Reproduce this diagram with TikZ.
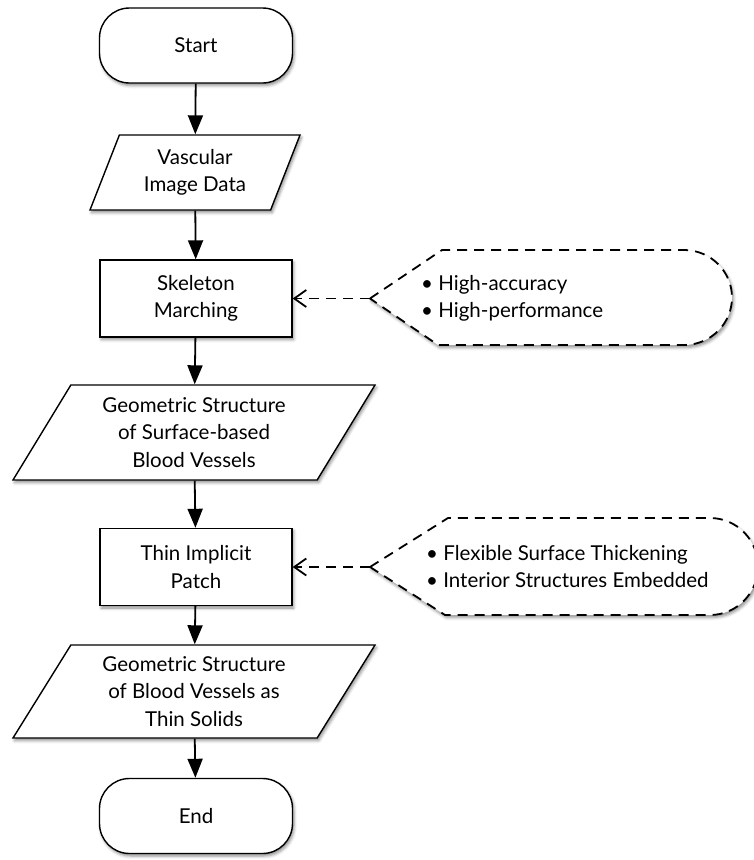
\documentclass[tikz,border=0pt]{standalone}
\usepackage{fontspec}
\setmainfont{Lato}
\usepackage{tikz}
\usetikzlibrary{shapes.geometric,arrows.meta,shadows.blur}
\tikzstyle{shade} = [blur shadow={shadow xshift=1.5pt,shadow yshift=-2.5pt,shadow blur radius=3pt,shadow opacity=45}]
\tikzstyle{box} = [draw=black,line width=1.4pt,fill=white,shade,align=center,font=\fontsize{20.5}{27.5}\selectfont]
\tikzstyle{terminal} = [box,rectangle,rounded corners=30pt,minimum width=193pt,minimum height=75pt]
\tikzstyle{process} = [box,rectangle,minimum width=192pt,minimum height=77pt]
\tikzstyle{io} = [box,trapezium,trapezium stretches body]
\tikzstyle{flow} = [draw,line width=1.8pt,-{Triangle[length=19pt,width=15pt]}]
\tikzstyle{hint} = [draw,line width=1.8pt,dash pattern=on 10pt off 7pt,-{Straight Barb[length=12pt,width=17pt]}]
\tikzstyle{note} = [draw=black,line width=1.8pt,dash pattern=on 10pt off 7pt,fill=white,shade]
\tikzstyle{notetext} = [anchor=west,inner sep=0pt,align=left,font=\fontsize{20.5}{27}\selectfont]

\begin{document}
\begin{tikzpicture}[x=1pt,y=-1pt]
  \useasboundingbox (0,0) rectangle (753,860);

  % main column
  \node[terminal] (start) at (196,45.5) {Start};
  \node[io,trapezium left angle=61,trapezium right angle=119,minimum width=210pt,minimum height=75pt] (vasc) at (195,172.5) {Vascular\\Image Data};
  \node[process] (skel) at (196,298.5) {Skeleton\\Marching};
  \node[io,trapezium left angle=53,trapezium right angle=127,minimum width=362pt,minimum height=95pt] (surf) at (194,432.5) {Geometric Structure\\of Surface-based\\Blood Vessels};
  \node[process] (thin) at (196,567) {Thin Implicit\\Patch};
  \node[io,trapezium left angle=53,trapezium right angle=127,minimum width=362pt,minimum height=93pt] (solid) at (194,691.5) {Geometric Structure\\of Blood Vessels as\\Thin Solids};
  \node[terminal] (end) at (196,816) {End};

  \draw[flow] (start) -- (vasc);
  \draw[flow] (vasc) -- (skel);
  \draw[flow] (skel) -- (surf);
  \draw[flow] (surf) -- (thin);
  \draw[flow] (thin) -- (solid);
  \draw[flow] (solid) -- (end);

  % remarks
  \coordinate (tip1) at (370,298.5);
  \draw[note] (tip1) -- (442,250) -- (684,250) arc[start angle=90,end angle=-90,x radius=48pt,y radius=47.5pt] -- (438,345) -- cycle;
  \node[notetext] (perf) at (421,298.5) {\textbullet~High-accuracy\\\textbullet~High-performance};

  \coordinate (tip2) at (370,567);
  \draw[note] (tip2) -- (448,518) -- (710,518) arc[start angle=90,end angle=-90,x radius=48pt,y radius=48.5pt] -- (445,615) -- cycle;
  \node[notetext] (feat) at (426,567) {\textbullet~Flexible Surface Thickening\\\textbullet~Interior Structures Embedded};

  \draw[hint] (tip1) -- (skel.east);
  \draw[hint] (tip2) -- (thin.east);

\end{tikzpicture}
\end{document}
